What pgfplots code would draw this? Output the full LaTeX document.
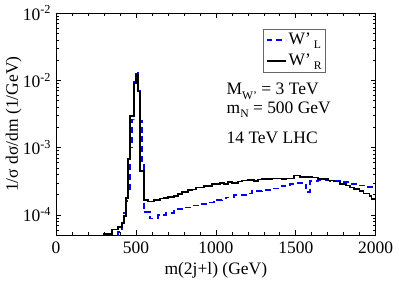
\documentclass[border=0pt]{standalone}
\usepackage{fontspec}
\setmainfont{Liberation Serif}
\usepackage{pgfplots}
\pgfplotsset{compat=1.18}
\newcommand{\sub}[1]{\raisebox{-0.55ex}{\fontsize{12}{12}\selectfont #1}}
\begin{document}
\fontsize{18}{21}\selectfont
\begin{tikzpicture}
\begin{axis}[
  scale only axis, width=328bp, height=228bp,
  xmin=0, xmax=2000, ymin=5e-5, ymax=1e-1, ymode=log,
  xtick={0,500,1000,1500,2000},
  xticklabels={0,500,1000,1500,2000},
  minor xtick={100,200,300,400,600,700,800,900,1100,1200,1300,1400,1600,1700,1800,1900},
  ytick={1e-4,1e-3,1e-2,1e-1},
  yticklabels={10\textsuperscript{-4},10\textsuperscript{-3},10\textsuperscript{-2},10\textsuperscript{-2}},
  minor ytick={6e-5,7e-5,8e-5,9e-5,2e-4,3e-4,4e-4,5e-4,6e-4,7e-4,8e-4,9e-4,2e-3,3e-3,4e-3,5e-3,6e-3,7e-3,8e-3,9e-3,2e-2,3e-2,4e-2,5e-2,6e-2,7e-2,8e-2,9e-2},
  tick align=inside, major tick length=5bp, minor tick length=3bp,
  tick style={black, line width=0.6bp},
  axis line style={black, line width=0.8bp},
  ticklabel style={font=\fontsize{18}{21}\selectfont},
  xticklabel style={yshift=-1bp},
  yticklabel style={xshift=1bp},
  xlabel={m(2j+l) (GeV)},
  ylabel={1/σ dσ/dm (1/GeV)},
  label style={font=\fontsize{18}{21}\selectfont},
  xlabel style={yshift=4bp},
  ylabel style={yshift=-11bp},
  legend style={at={(rel axis cs:0.649,0.93)}, anchor=north west, draw=black!60, line width=0.6bp,
    font=\fontsize{18}{21}\selectfont, inner sep=2bp, row sep=3bp, legend cell align=left},
  legend image code/.code={\draw[#1] (0bp,0bp) -- (20bp,0bp);},
]
\addplot[const plot, blue, line width=1.6bp, dash pattern=on 6bp off 4bp] coordinates {
(0,1e-6) (387.5,5.6e-5) (412.5,8e-5) (425,1.08e-4) (437.5,1.6e-4) (450,2.2e-4) (462.5,1.0e-3)
(475,2.6e-3) (487.5,9.5e-3) (500,1.35e-2) (512.5,7e-3) (525,2.5e-3) (537.5,6e-4) (550,1.1e-4)
(587.5,8.8e-5) (637.5,9.9e-5) (687.5,1.08e-4) (737.5,1.23e-4) (787.5,1.3e-4) (837.5,1.38e-4)
(887.5,1.45e-4) (937.5,1.54e-4) (987.5,1.68e-4) (1037.5,1.75e-4) (1062.5,1.83e-4) (1112.5,1.98e-4)
(1187.5,2.1e-4) (1225,2.27e-4) (1287.5,2.34e-4) (1350,2.47e-4) (1412.5,2.68e-4) (1462.5,2.86e-4)
(1500,3.0e-4) (1562.5,2.2e-4) (1587.5,3.2e-4) (1637.5,3.26e-4) (1712.5,3.2e-4) (1775,3.1e-4)
(1850,2.9e-4) (1900,2.76e-4) (1950,2.6e-4) (2000,2.6e-4)
};
\addlegendentry{W\textquoteright\,\sub{L}}
\addplot[const plot, black, line width=1.6bp] coordinates {
(0,1e-6) (300,5.2e-5) (350,6.1e-5) (387.5,6.6e-5) (412.5,7.6e-5) (425,9.7e-5) (437.5,1.8e-4)
(450,6.8e-4) (462.5,2.96e-3) (487.5,9.0e-3) (500,1.22e-2) (512.5,6.8e-3) (525,4.5e-4)
(550,1.68e-4) (575,1.59e-4) (612.5,1.68e-4) (650,1.75e-4) (675,1.8e-4) (700,1.85e-4)
(737.5,1.92e-4) (762.5,2.03e-4) (787.5,2.2e-4) (825,2.34e-4) (850,2.38e-4) (875,2.55e-4)
(925,2.68e-4) (975,2.86e-4) (1025,3.0e-4) (1050,2.9e-4) (1075,3.1e-4) (1100,3.0e-4)
(1137.5,3.15e-4) (1162.5,3.26e-4) (1200,3.3e-4) (1237.5,3.2e-4) (1262.5,3.35e-4)
(1287.5,3.44e-4) (1350,3.5e-4) (1412.5,3.42e-4) (1437.5,3.5e-4) (1487.5,3.85e-4)
(1525,3.65e-4) (1575,3.7e-4) (1600,3.6e-4) (1637.5,3.4e-4) (1700,3.26e-4) (1737.5,3.15e-4)
(1775,2.9e-4) (1812.5,2.76e-4) (1837.5,2.55e-4) (1862.5,2.42e-4) (1900,2.27e-4)
(1925,2.1e-4) (1962.5,1.92e-4) (1975,1.72e-4) (2000,1.72e-4)
};
\addlegendentry{W\textquoteright\,\sub{R}}
\node[anchor=base west] at (rel axis cs:0.515,0.632) {M\sub{W\textquoteright} = 3 TeV};
\node[anchor=base west] at (rel axis cs:0.515,0.548) {m\sub{N} = 500 GeV};
\node[anchor=base west] at (rel axis cs:0.515,0.412) {14 TeV LHC};
\end{axis}
\end{tikzpicture}
\end{document}
